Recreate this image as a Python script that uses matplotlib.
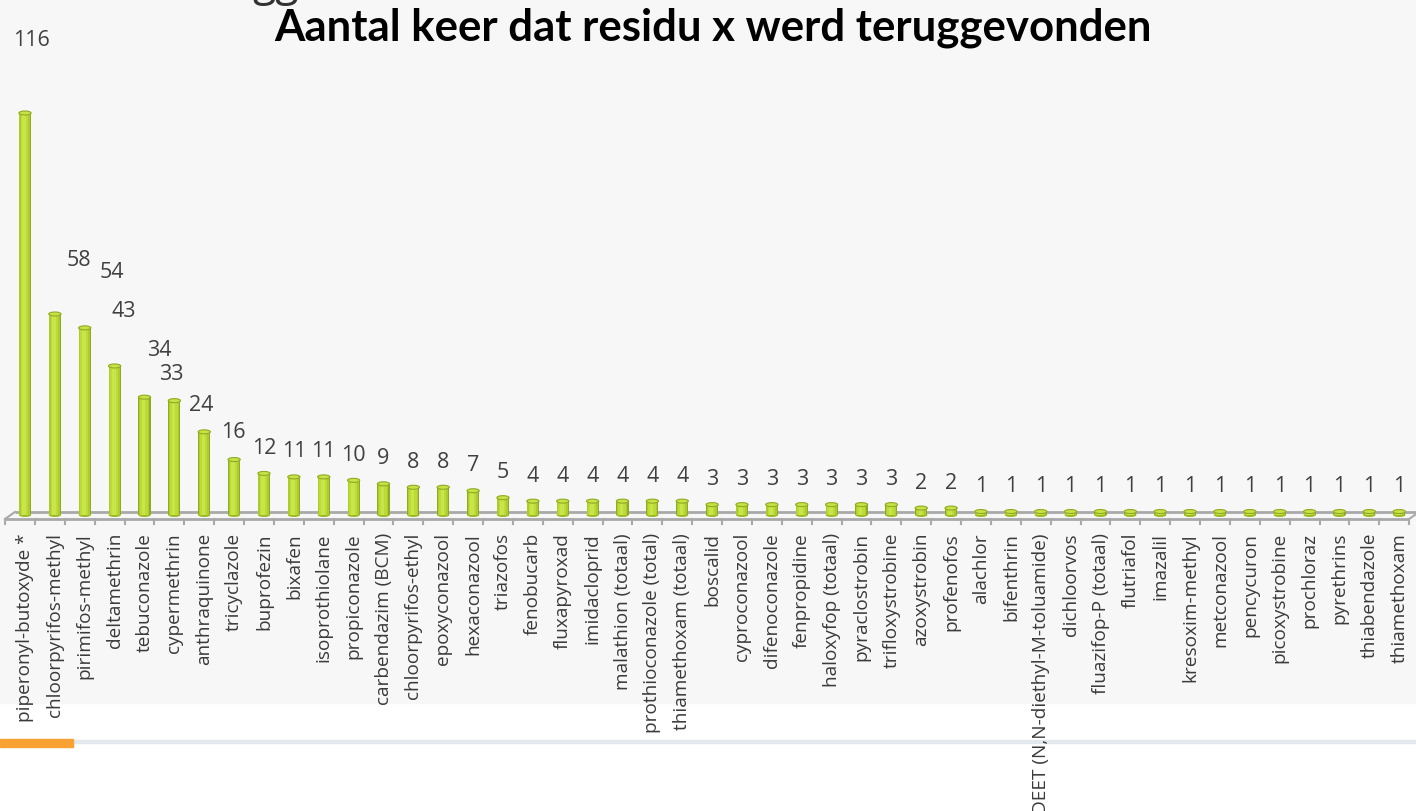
import numpy as np
import matplotlib
matplotlib.use("Agg")
import matplotlib.pyplot as plt
from matplotlib.patches import Ellipse, Rectangle

residuen = [
    "piperonyl-butoxyde *", "chloorpyrifos-methyl", "pirimifos-methyl", "deltamethrin",
    "tebuconazole", "cypermethrin", "anthraquinone", "tricyclazole", "buprofezin",
    "bixafen", "isoprothiolane", "propiconazole", "carbendazim (BCM)",
    "chloorpyrifos-ethyl", "epoxyconazool", "hexaconazool", "triazofos", "fenobucarb",
    "fluxapyroxad", "imidacloprid", "malathion (totaal)", "prothioconazole (total)",
    "thiamethoxam (totaal)", "boscalid", "cyproconazool", "difenoconazole",
    "fenpropidine", "haloxyfop (totaal)", "pyraclostrobin", "trifloxystrobine",
    "azoxystrobin", "profenofos", "alachlor", "bifenthrin",
    "DEET (N,N-diethyl-M-toluamide)", "dichloorvos", "fluazifop-P (totaal)",
    "flutriafol", "imazalil", "kresoxim-methyl", "metconazool", "pencycuron",
    "picoxystrobine", "prochloraz", "pyrethrins", "thiabendazole", "thiamethoxam",
]
aantal = [
    116, 58, 54, 43, 34, 33, 24, 16, 12, 11, 11, 10, 9, 8, 8, 7, 5, 4, 4, 4, 4, 4, 4,
    3, 3, 3, 3, 3, 3, 3, 2, 2, 1, 1, 1, 1, 1, 1, 1, 1, 1, 1, 1, 1, 1, 1, 1,
]

# label offsets (pixels) for the first few data labels, which sit apart in the original
label_offset = {0: (6, 73), 1: (24, 54), 2: (27, 55), 3: (9, 54), 4: (15, 47),
                5: (-3, 26), 6: (-3, 26), 7: (-1, 27)}

W, H = 1416, 811
fig = plt.figure(figsize=(W / 100, H / 100), dpi=100)
fig.patch.set_facecolor("white")

# slide background band + bottom rule
fig.add_artist(Rectangle((0, 1 - 703 / H), 1, 703 / H, transform=fig.transFigure,
                         color="#f7f7f7", zorder=0))
fig.add_artist(Rectangle((73 / W, 1 - 743 / H), 1, 3 / H, transform=fig.transFigure,
                         color="#e3e8ec", zorder=0))
fig.add_artist(Rectangle((0, 1 - 747 / H), 73 / W, 8 / H, transform=fig.transFigure,
                         color="#f9a233", zorder=1))

ax = fig.add_axes([0, 0, 1, 1])
ax.set_facecolor("none")
ax.axis("off")

px = 29.875                 # pixels per category
py = 402 / 116              # pixels per unit
ax.set_xlim(-25 / px, (W - 25) / px)
ax.set_ylim(-296 / py, (H - 296) / py)

x = np.arange(len(residuen))
waarden = np.array(aantal)

# 3D-like floor
vloer = "#a9a9a9"
grens = np.arange(len(residuen) + 1) - 0.669
yf, yb = -4 / py, 3 / py
ax.plot([grens[0], grens[-1]], [yf, yf], color=vloer, lw=2, solid_capstyle="butt")
ax.plot([grens[0] + 0.33, grens[-1] + 0.33], [yb, yb], color=vloer, lw=2,
        solid_capstyle="butt")
ax.plot([grens[0], grens[0] + 0.33], [yf, yb], color=vloer, lw=1.5)
ax.plot([grens[-1], grens[-1] + 0.33], [yf, yb], color=vloer, lw=1.5)
for g in grens:
    ax.plot([g, g], [yf, yf - 5 / py], color=vloer, lw=1.5)

# cylinder bars (shaded with stacked stripes)
stroken = [(0.41, "#8fab22", 0.0), (0.35, "#aecb2e", -0.01),
           (0.25, "#bcdb36", -0.02), (0.12, "#c8e64a", -0.03)]
for breedte, kleur, dx in stroken:
    ax.bar(x + dx, waarden, width=breedte, color=kleur, zorder=3)
eh = 4 / py
for xi, v in zip(x, waarden):
    ax.add_patch(Ellipse((xi, v), 0.41, eh, facecolor="#c6e244",
                         edgecolor="#8fab22", lw=0.8, zorder=4))
    ax.add_patch(Ellipse((xi, 0), 0.41, eh, facecolor="#9cb926",
                         edgecolor="none", zorder=2.9))

# data labels
for i, v in enumerate(waarden):
    dx, dy = label_offset.get(i, (0, 25))
    ax.annotate(str(v), (i, v), xytext=(dx, dy), textcoords="offset pixels",
                ha="center", va="center", fontsize=15.5, color="#404040",
                family="Open Sans", zorder=5)

# category labels
for i, naam in enumerate(residuen):
    ax.text(i, -18 / py, naam, rotation=90, ha="center", va="top", fontsize=13.7,
            color="#3a3a3a", family="Open Sans", zorder=5)

fig.text(713 / W, 1 - 40 / H, "Aantal keer dat residu x werd teruggevonden",
         ha="center", va="baseline", fontsize=31.5, weight="bold", family="Lato",
         color="black")
fig.text(276 / W, 1 + 5 / H, "gg", ha="center", va="baseline", fontsize=31,
         family="Open Sans", color="#333333")

fig.savefig("out.png", dpi=100, facecolor=fig.get_facecolor())
